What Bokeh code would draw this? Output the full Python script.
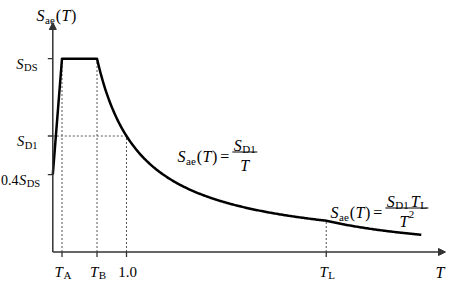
import numpy as np
from bokeh.plotting import figure
from bokeh.models import Range1d, Arrow, NormalHead
from bokeh.core.properties import value
from bokeh.embed import file_html
from bokeh.resources import INLINE

# ---------------- data ----------------
S_DS = 1.0          # plateau level
S_D1 = 0.6          # spectral value at T = 1.0
S_0 = 0.4 * S_DS    # value at T = 0
T_A = 0.125
T_B = 0.6
T_L = 3.71
T_END = 5.0

x_ticks = [T_A, T_B, 1.0, T_L]
x_tick_main = ["T", "T", "1.0", "T"]
x_tick_sub = ["A", "B", "", "L"]
x_tick_italic = [True, True, False, True]

y_ticks = [S_0, S_D1, S_DS]
y_tick_pre = ["0.4", "", ""]
y_tick_main = ["S", "S", "S"]
y_tick_sub = ["DS", "D1", "DS"]

# ---------------- canvas / scale ----------------
W, H = 460, 282
X0_PX, KX = 52.3, 73.7      # pixel of T=0, pixels per unit T
Y0_PX, KY = 251.5, 193.3    # pixel of S=0, pixels per unit S
x_range = Range1d(-X0_PX / KX, (W - X0_PX) / KX)
y_range = Range1d((Y0_PX - H) / KY, Y0_PX / KY)

def dx(px):
    return px / KX

def dy(px):
    return px / KY

def to_x(px):
    return (px - X0_PX) / KX

def to_y(py):
    return (Y0_PX - py) / KY

p = figure(width=W, height=H, x_range=x_range, y_range=y_range,
           x_axis_type=None, y_axis_type=None, toolbar_location=None,
           output_backend="svg", min_border=0)
p.outline_line_color = None
p.grid.visible = False
p.background_fill_color = "white"

FONT = "Liberation Serif"
AX_COLOR = "#333333"
DASH_COLOR = "#555555"

# ---------------- dashed guide lines ----------------
def curve_val(t):
    if t <= T_A:
        return S_0 + (S_DS - S_0) * t / T_A
    if t <= T_B:
        return S_DS
    if t <= T_L:
        return S_D1 / t
    return S_D1 * T_L / t ** 2

gx = x_ticks
p.segment(x0=gx, y0=[0] * len(gx), x1=gx, y1=[curve_val(t) for t in gx],
          line_color=DASH_COLOR, line_width=1, line_dash="2 2")
p.segment(x0=[0], y0=[S_D1], x1=[1.0], y1=[S_D1],
          line_color=DASH_COLOR, line_width=1, line_dash="2 2")

# ---------------- axes ----------------
Y_TOP = to_y(22)
X_RIGHT = to_x(445)
p.add_layout(Arrow(x_start=0, y_start=0, x_end=0, y_end=Y_TOP,
                   line_color=AX_COLOR, line_width=1.5,
                   end=NormalHead(size=7, fill_color=AX_COLOR, line_color=AX_COLOR)))
p.add_layout(Arrow(x_start=0, y_start=0, x_end=X_RIGHT, y_end=0,
                   line_color=AX_COLOR, line_width=1.5,
                   end=NormalHead(size=7, fill_color=AX_COLOR, line_color=AX_COLOR)))
# tick marks
p.segment(x0=x_ticks, y0=[0] * len(x_ticks), x1=x_ticks, y1=[-dy(5)] * len(x_ticks),
          line_color=AX_COLOR, line_width=1.3)
p.segment(x0=[0] * len(y_ticks), y0=y_ticks, x1=[-dx(5)] * len(y_ticks), y1=y_ticks,
          line_color=AX_COLOR, line_width=1.3)

# ---------------- spectrum curve ----------------
t1 = np.linspace(T_B, T_L, 200)
t2 = np.linspace(T_L, T_END, 80)
curve_t = np.concatenate([[0.0, T_A], t1, t2[1:]])
curve_s = np.concatenate([[S_0, S_DS], S_D1 / t1, S_D1 * T_L / t2[1:] ** 2])
p.line(curve_t, curve_s, line_color="black", line_width=2.5, line_join="round")

# ---------------- rich text helpers ----------------
W_REG = {"S": .556, "D": .722, "A": .722, "B": .667, "L": .611, "a": .444, "e": .444,
         "(": .333, ")": .333, "=": .564, "0": .5, ".": .25, "4": .5, "1": .5,
         "2": .5, "T": .611, " ": .25}
W_IT = {"S": .5, "T": .556}
texts = {}

def width(s, size, italic):
    tab = W_IT if italic else W_REG
    return sum(tab.get(c, W_REG.get(c, .5)) for c in s) * size

def put(xpx, ypx, s, size, italic):
    key = (size, italic)
    d = texts.setdefault(key, {"x": [], "y": [], "t": []})
    d["x"].append(to_x(xpx))
    d["y"].append(to_y(ypx))
    d["t"].append(s)

def run(parts, xpx, base):
    """parts: (text, size, italic, baseline shift px, gap before px)"""
    x = xpx
    for s, size, it, shift, gap in parts:
        x += gap
        put(x, base + shift, s, size, it)
        x += width(s, size, it)
    return x

def run_width(parts):
    return sum(width(s, size, it) + gap for s, size, it, shift, gap in parts)

FM, FS = 16, 11   # formula main / subscript sizes

def sae(x, base):
    return run([("S", FM, True, 0, 0), ("ae", FS, False, 4, 0.5),
                ("(", FM, False, 0, 1), ("T", FM, True, 0, 0.5),
                (")", FM, False, 0, 0.5)], x, base)

# ---------------- tick labels ----------------
for t, m, sb, it in zip(x_ticks, x_tick_main, x_tick_sub, x_tick_italic):
    parts = [(m, 15, it, 0, 0)]
    if sb:
        parts.append((sb, 11, False, 3.5, 0.5))
    cx = X0_PX + t * KX
    run(parts, cx - run_width(parts) / 2 + 1, 271)

for s, pre, m, sb in zip(y_ticks, y_tick_pre, y_tick_main, y_tick_sub):
    parts = []
    if pre:
        parts.append((pre, 14, False, 0, 0))
    parts += [(m, 14.5, True, 0, 0.5), (sb, 10.5, False, 4, 0.5)]
    cy = Y0_PX - s * KY
    run(parts, max(0.5, 37 - run_width(parts)), cy + 5)

# ---------------- axis titles ----------------
sae(36, 15)
put(435, 272, "T", FM, True)

# ---------------- formulas ----------------
bars = {"x0": [], "x1": [], "y": []}

def fraction(x, base, num, den):
    x = sae(x, base)
    x += 3
    put(x, base, "=", FM, False)
    x += width("=", FM, False) + 3
    wn, wd = run_width(num), run_width(den)
    wb = max(wn, wd) + 3
    bar_y = base - 4.5
    bars["x0"].append(to_x(x))
    bars["x1"].append(to_x(x + wb))
    bars["y"].append(to_y(bar_y))
    run(num, x + (wb - wn) / 2, bar_y - 7)
    run(den, x + (wb - wd) / 2, bar_y + 13)

fraction(177, 156,
         [("S", FM, True, 0, 0), ("D1", FS, False, 4, 0.5)],
         [("T", FM, True, 0, 0)])
fraction(330, 212,
         [("S", FM, True, 0, 0), ("D1", FS, False, 4, 0.5),
          ("T", FM, True, 0, 2), ("L", FS, False, 4, 0.5)],
         [("T", FM, True, 0, 0), ("2", FS, False, -7, 0.5)])

p.segment(x0=bars["x0"], y0=bars["y"], x1=bars["x1"], y1=bars["y"],
          line_color="black", line_width=1)

for (size, it), d in texts.items():
    p.text(x=d["x"], y=d["y"], text=d["t"], text_font=value(FONT),
           text_font_size=f"{size}px", text_font_style="italic" if it else "normal",
           text_baseline="alphabetic", text_align="left", text_color="black")

open("out.html", "w").write(file_html(p, INLINE))
